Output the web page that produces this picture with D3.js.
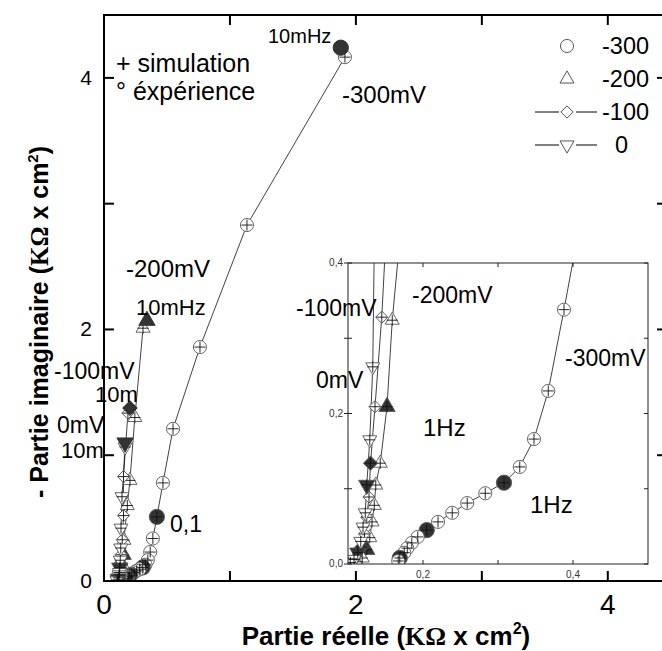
<!DOCTYPE html>
<html>
<head>
<meta charset="utf-8">
<script src="https://cdn.jsdelivr.net/npm/d3@7/dist/d3.min.js"></script>
<style>
  body { margin: 0; background: #fff; }
  svg { display: block; font-family: Arial, "Liberation Sans", sans-serif; }
</style>
</head>
<body>
<svg id="chart" width="662" height="651"></svg>
<script>
// Nyquist data: [Re, -Im, decade marker (1 = filled)]
const potentials = ["-300", "-200", "-100", "0"];
const shapes = ["circle", "triangle", "diamond", "down"];

const s300 = [
  [1.913, 4.165, 0], [1.135, 2.83, 0], [0.762, 1.86, 0], [0.548, 1.21, 0], [0.468, 0.78, 0],
  [0.42, 0.51, 1], [0.388, 0.338, 0], [0.367, 0.230, 0], [0.348, 0.166, 0], [0.329, 0.129, 0],
  [0.308, 0.108, 1], [0.283, 0.094, 0], [0.259, 0.081, 0], [0.239, 0.068, 0], [0.220, 0.056, 0],
  [0.205, 0.045, 1], [0.193, 0.036, 0], [0.185, 0.028, 0], [0.179, 0.021, 0], [0.175, 0.015, 0],
  [0.169, 0.008, 1], [0.167, 0.004, 0]
];
const s200 = [
  [0.31, 2.01, 0], [0.245, 1.30, 0], [0.206, 0.80, 0], [0.185, 0.60, 0], [0.159, 0.324, 0],
  [0.152, 0.209, 1], [0.143, 0.134, 0], [0.137, 0.105, 0], [0.135, 0.078, 0], [0.132, 0.056, 0],
  [0.129, 0.035, 0], [0.125, 0.019, 1], [0.119, 0.008, 0], [0.111, 0.003, 0]
];
const s100 = [
  [0.19, 1.335, 0], [0.155, 0.83, 0], [0.155, 0.52, 0], [0.145, 0.328, 0], [0.136, 0.209, 0],
  [0.13, 0.134, 1], [0.128, 0.089, 0], [0.125, 0.062, 0], [0.122, 0.040, 0], [0.118, 0.022, 1],
  [0.112, 0.010, 0], [0.105, 0.003, 0]
];
const s0 = [
  [0.167, 1.065, 0], [0.143, 0.67, 0], [0.135, 0.42, 0], [0.133, 0.262, 0], [0.129, 0.165, 0],
  [0.125, 0.105, 1], [0.123, 0.068, 0], [0.12, 0.049, 0], [0.117, 0.030, 0], [0.113, 0.015, 1],
  [0.108, 0.006, 0], [0.103, 0.002, 0]
];
// experimental 10 mHz points (filled)
const endPoints = [[1.88, 4.24], [0.341, 2.07], [0.206, 1.375], [0.167, 1.10]];

const mainTicks = [0, 1, 2, 3, 4];
const mainLabels = [0, 2, 4];
const insetXTicks = [0.2, 0.3, 0.4];
const insetXLabels = [0.2, 0.4];
const insetYTicks = [0, 0.1, 0.2, 0.3, 0.4];
const insetYLabels = [0, 0.2, 0.4];

const series = [s300, s200, s100, s0];

const svg = d3.select("#chart");

const x = d3.scaleLinear().domain([0, 4.47]).range([104, 667]);
const y = d3.scaleLinear().domain([0, 4.5]).range([581, 15]);

const xi = d3.scaleLinear().domain([0.1, 0.5]).range([348, 648]);
const yi = d3.scaleLinear().domain([0, 0.4]).range([564, 263]);

function symbolPath(shape, big) {
  const k = big ? 1.35 : 1;
  if (shape === "circle") return d3.symbol(d3.symbolCircle, 135 * k)();
  if (shape === "triangle") return d3.symbol(d3.symbolTriangle, 85 * k)();
  if (shape === "down") return d3.symbol(d3.symbolTriangle, 85 * k)();
  return d3.symbol(d3.symbolSquare, 75 * k)();
}
function symbolRotate(shape) {
  if (shape === "down") return " rotate(180)";
  if (shape === "diamond") return " rotate(45)";
  return "";
}

function drawSeries(g, sx, sy) {
  const line = d3.line().x(d => sx(d[0])).y(d => sy(d[1]));
  series.forEach(data => {
    g.append("path")
      .datum(data)
      .attr("fill", "none")
      .attr("stroke", "#111")
      .attr("stroke-width", 0.8)
      .attr("d", line);
  });
  series.forEach((data, i) => {
    const sh = shapes[i];
    g.selectAll(null)
      .data(data)
      .enter().append("path")
      .attr("transform", d => `translate(${sx(d[0])},${sy(d[1])})` + symbolRotate(sh))
      .attr("d", d => symbolPath(sh, d[2] === 1))
      .attr("fill", d => d[2] ? "#333" : "#fff")
      .attr("stroke", "#555")
      .attr("stroke-width", 0.9);
    g.selectAll(null)
      .data(data)
      .enter().append("path")
      .attr("transform", d => `translate(${sx(d[0])},${sy(d[1])})`)
      .attr("d", "M-5.5,0H5.5M0,-5.5V5.5")
      .attr("stroke", "#111")
      .attr("stroke-width", 0.9);
  });
  endPoints.forEach((d, i) => {
    const sh = shapes[i];
    g.append("path")
      .attr("transform", `translate(${sx(d[0])},${sy(d[1])})` + symbolRotate(sh))
      .attr("d", symbolPath(sh, true))
      .attr("fill", "#333")
      .attr("stroke", "#333");
  });
}

// ---- main plot
const main = svg.append("g");
main.append("defs").append("clipPath").attr("id", "mainclip")
  .append("rect").attr("x", 104).attr("y", 15).attr("width", 563).attr("height", 566);
const mainData = main.append("g").attr("clip-path", "url(#mainclip)");
drawSeries(mainData, x, y);

// frame
main.append("rect")
  .attr("x", 104).attr("y", 15).attr("width", 563).attr("height", 566)
  .attr("fill", "none").attr("stroke", "#000").attr("stroke-width", 2);

// ticks (inward)
mainTicks.forEach(t => {
  main.append("line").attr("x1", x(t)).attr("x2", x(t)).attr("y1", 581).attr("y2", 571)
    .attr("stroke", "#000").attr("stroke-width", 2);
  main.append("line").attr("x1", x(t)).attr("x2", x(t)).attr("y1", 15).attr("y2", 25)
    .attr("stroke", "#000").attr("stroke-width", 2);
  main.append("line").attr("x1", 104).attr("x2", 114).attr("y1", y(t)).attr("y2", y(t))
    .attr("stroke", "#000").attr("stroke-width", 2);
  main.append("line").attr("x1", 667).attr("x2", 657).attr("y1", y(t)).attr("y2", y(t))
    .attr("stroke", "#000").attr("stroke-width", 2);
});
mainLabels.forEach(t => {
  main.append("text").attr("x", x(t)).attr("y", 614).attr("text-anchor", "middle")
    .attr("font-size", 28).text(t);
  main.append("text").attr("x", 92).attr("y", y(t) + 7).attr("text-anchor", "end")
    .attr("font-size", 21).text(t);
});

// axis titles
const xt = svg.append("text").attr("x", 386).attr("y", 645).attr("text-anchor", "middle")
  .attr("font-size", 26).attr("font-weight", "bold");
xt.append("tspan").text("Partie réelle (");
xt.append("tspan").attr("font-family", "'Liberation Serif', serif").text("KΩ");
xt.append("tspan").text(" x cm");
xt.append("tspan").attr("font-size", 16).attr("dy", -11).text("2");
xt.append("tspan").attr("dy", 11).text(")");

const yt = svg.append("text").attr("transform", "translate(48,322) rotate(-90)")
  .attr("text-anchor", "middle").attr("font-size", 25).attr("font-weight", "bold");
yt.append("tspan").text("- Partie imaginaire (");
yt.append("tspan").attr("font-family", "'Liberation Serif', serif").text("KΩ");
yt.append("tspan").text(" x cm");
yt.append("tspan").attr("font-size", 15).attr("dy", -10).text("2");
yt.append("tspan").attr("dy", 10).text(")");

// legend
const legend = svg.append("g");
const legendRows = [46, 79, 112, 145];
potentials.forEach((p, i) => {
  const ly = legendRows[i];
  if (i >= 2) {
    legend.append("line").attr("x1", 535).attr("x2", 559).attr("y1", ly).attr("y2", ly).attr("stroke", "#000");
    legend.append("line").attr("x1", 576).attr("x2", 597).attr("y1", ly).attr("y2", ly).attr("stroke", "#000");
  }
  legend.append("path")
    .attr("transform", `translate(567,${ly})` + symbolRotate(shapes[i]))
    .attr("d", symbolPath(shapes[i], false))
    .attr("fill", "#fff").attr("stroke", "#444").attr("stroke-width", 0.9);
  legend.append("text").attr("x", p === "0" ? 615 : 602).attr("y", ly + 8)
    .attr("font-size", 23.5).text(p);
});

// annotations (main)
const notes = [
  ["+ simulation", 116, 72, 25], ["° éxpérience", 116, 100, 25],
  ["10mHz", 268, 43, 20], ["-300mV", 342, 103, 24],
  ["-200mV", 126, 277, 24], ["10mHz", 136, 315, 22],
  ["-100mV", 54, 379, 23], ["10m", 95, 402, 22],
  ["0mV", 57, 433, 23], ["10m", 61, 458, 22], ["0,1", 170, 532, 23]
];
notes.forEach(n => {
  svg.append("text").attr("x", n[1]).attr("y", n[2]).attr("font-size", n[3]).text(n[0]);
});

// ---- inset
const inset = svg.append("g");
inset.append("rect").attr("x", 348).attr("y", 263).attr("width", 300).attr("height", 301)
  .attr("fill", "#fff");
inset.append("defs").append("clipPath").attr("id", "insetclip")
  .append("rect").attr("x", 348).attr("y", 263).attr("width", 300).attr("height", 301);
const insetData = inset.append("g").attr("clip-path", "url(#insetclip)");
drawSeries(insetData, xi, yi);
inset.append("rect").attr("x", 348).attr("y", 263).attr("width", 300).attr("height", 301)
  .attr("fill", "none").attr("stroke", "#222").attr("stroke-width", 1);

insetXTicks.forEach(t => {
  inset.append("line").attr("x1", xi(t)).attr("x2", xi(t)).attr("y1", 564).attr("y2", 560).attr("stroke", "#222");
  inset.append("line").attr("x1", xi(t)).attr("x2", xi(t)).attr("y1", 263).attr("y2", 267).attr("stroke", "#222");
});
insetYTicks.forEach(t => {
  inset.append("line").attr("x1", 344).attr("x2", 352).attr("y1", yi(t)).attr("y2", yi(t)).attr("stroke", "#222");
  inset.append("line").attr("x1", 648).attr("x2", 644).attr("y1", yi(t)).attr("y2", yi(t)).attr("stroke", "#222");
});
const fmt = v => d3.format(".1f")(v).replace(".", ",");
insetXLabels.forEach(t => {
  inset.append("text").attr("x", xi(t)).attr("y", 578).attr("text-anchor", "middle")
    .attr("font-size", 10).attr("fill", "#333").text(fmt(t));
});
insetYLabels.forEach(t => {
  inset.append("text").attr("x", 343).attr("y", yi(t) + 3).attr("text-anchor", "end")
    .attr("font-size", 10).attr("fill", "#333").text(fmt(t));
});

const insetNotes = [
  ["-200mV", 412, 303, 23], ["-100mV", 296, 316, 23], ["0mV", 316, 388, 23],
  ["1Hz", 423, 436, 24], ["1Hz", 530, 513, 24], ["-300mV", 565, 366, 23]
];
insetNotes.forEach(n => {
  svg.append("text").attr("x", n[1]).attr("y", n[2]).attr("font-size", n[3]).text(n[0]);
});
</script>
</body>
</html>
